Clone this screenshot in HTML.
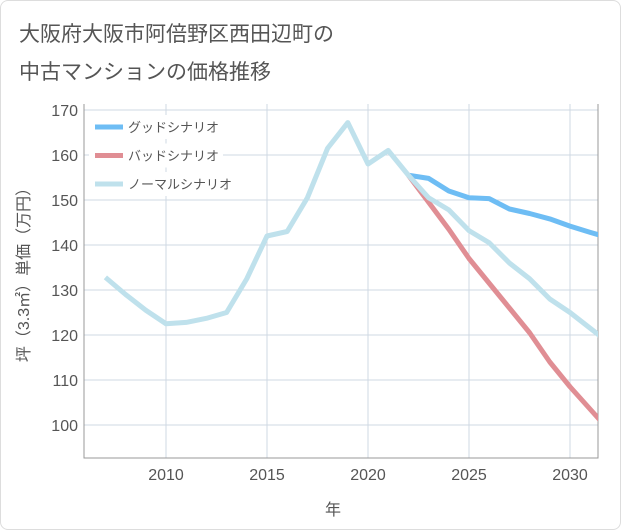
<!DOCTYPE html>
<html><head><meta charset="utf-8"><style>
body{margin:0;background:#fff;font-family:"Liberation Sans","Noto Sans CJK JP",sans-serif;}
#wrap{position:relative;width:619px;height:528px;border:1px solid #ddd;border-radius:8px;overflow:hidden;background:#fff}
.title{position:absolute;left:18px;font-size:21px;color:#555;white-space:nowrap}
</style></head><body>
<div id="wrap">
<div class="title" style="top:17px">大阪府大阪市阿倍野区西田辺町の</div>
<div class="title" style="top:55px">中古マンションの価格推移</div>
<svg id="chart" width="621" height="530" style="position:absolute;left:0;top:0"></svg>
</div>
<script>
const normalYears=[2007,2008,2009,2010,2011,2012,2013,2014,2015,2016,2017,2018,2019,2020,2021,2022,2023,2024,2025,2026,2027,2028,2029,2030,2031,2032];
const normalValues=[132.8,129,125.5,122.5,122.8,123.7,125,132.5,142,143,150.5,161.5,167.2,158,161,155.5,150.5,147.8,143.2,140.5,136,132.5,128,125,121.5,118];
const scenarioYears=[2022,2023,2024,2025,2026,2027,2028,2029,2030,2031,2032];
const goodValues=[155.5,154.8,152,150.5,150.3,148,147,145.8,144.2,142.8,141.5];
const badValues=[155.5,149.5,143.5,137,131.5,126,120.5,114,108.5,103.5,98.5];
const yTicks=[100,110,120,130,140,150,160,170];
const xTicks=[2010,2015,2020,2025,2030];
const L=83,R=597,T=103,B=457;
const xs=y=>165+(y-2010)*20.2;
const ys=v=>424-(v-100)*4.5;
const svg=document.getElementById('chart');
const NS='http://www.w3.org/2000/svg';
function mk(t,a){const e=document.createElementNS(NS,t);for(const k in a)e.setAttribute(k,a[k]);svg.appendChild(e);return e;}
const defs=mk('defs',{});
const cp=document.createElementNS(NS,'clipPath');cp.setAttribute('id','clip');defs.appendChild(cp);
const cr=document.createElementNS(NS,'rect');cr.setAttribute('x',L);cr.setAttribute('y',T);cr.setAttribute('width',R-L);cr.setAttribute('height',B-T);cp.appendChild(cr);
yTicks.forEach(v=>{
 const g=mk('line',{x1:L,x2:R,y1:ys(v),y2:ys(v),stroke:'#cfd9e3','stroke-width':1});
 
 
 const t=mk('text',{x:L-6,y:ys(v)+6,'text-anchor':'end','font-size':16,fill:'#555'});
 t.textContent=v;
 
 
});
xTicks.forEach(v=>{
 const g=mk('line',{x1:xs(v),x2:xs(v),y1:T,y2:B,stroke:'#cfd9e3','stroke-width':1});
 
 
 const t=mk('text',{x:xs(v),y:B+22,'text-anchor':'middle','font-size':16,fill:'#555'});
 t.textContent=v;
 
 
});
const ax=mk('path',{d:`M${L},${T} V${B} H${R} V${T}`,fill:'none',stroke:'#999','stroke-width':1});


function line(xsArr,vals,color,name){
 const p=mk('polyline',{points:xsArr.map((y,i)=>xs(y)+','+ys(vals[i])).join(' '),fill:'none',stroke:color,'stroke-width':5,'stroke-linejoin':'round','clip-path':'url(#clip)'});
 
 
}
line(scenarioYears,goodValues,'#6ebdf4','good-scenario-line');
line(scenarioYears,badValues,'#e08e94','bad-scenario-line');
line(normalYears,normalValues,'#bfe1ec','normal-scenario-line');
const leg=[['グッドシナリオ','#6ebdf4'],['バッドシナリオ','#e08e94'],['ノーマルシナリオ','#bfe1ec']];
leg.forEach((l,i)=>{
 const y=126+i*28.5;
 const bg=mk('rect',{x:88,y:y-12,width:(i==2?147:134),height:24,fill:'#fff'});
 
 
 const s=mk('line',{x1:94,x2:122,y1:y,y2:y,stroke:l[1],'stroke-width':5});
 
 
 const t=mk('text',{x:127,y:y+5,'font-size':13,fill:'#555'});
 t.textContent=l[0];
 
 
});
const yt=mk('text',{x:0,y:0,'font-size':16,fill:'#555','text-anchor':'middle',transform:'translate(28,270) rotate(-90)'});
yt.textContent='坪（3.3㎡）単価（万円）';


const xt=mk('text',{x:332,y:514,'font-size':16,fill:'#555','text-anchor':'middle'});
xt.textContent='年';


</script>
</body></html>
